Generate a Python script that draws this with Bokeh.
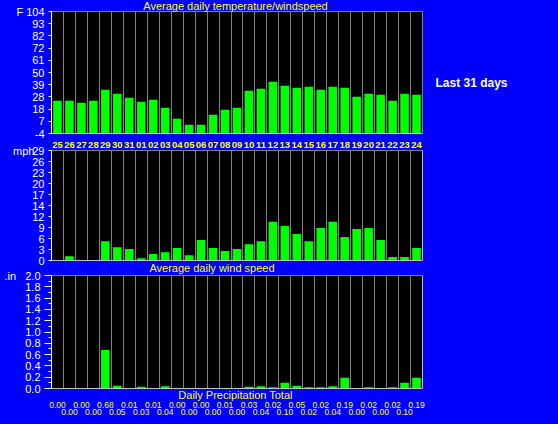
from bokeh.plotting import figure
from bokeh.layouts import column, row
from bokeh.models import FixedTicker, Span, Label, LabelSet, ColumnDataSource, Range1d
from bokeh.embed import file_html
from bokeh.resources import INLINE
from bokeh.core.properties import value

# ---------------- data ----------------
days = ["25", "26", "27", "28", "29", "30", "31", "01", "02", "03", "04", "05", "06", "07", "08",
        "09", "10", "11", "12", "13", "14", "15", "16", "17", "18", "19", "20", "21", "22", "23", "24"]
temp_f = [25.0, 25.0, 23.2, 25.0, 34.7, 31.2, 27.6, 24.1, 25.9, 18.7, 9.0, 3.7, 3.7, 12.5, 17.0,
          18.7, 33.8, 35.6, 41.8, 38.3, 36.5, 37.4, 34.7, 37.4, 36.5, 28.5, 31.2, 30.3, 25.0, 31.2, 30.3]
wind_mph = [0.0, 1.1, 0.0, 0.0, 5.1, 3.5, 3.0, 0.6, 1.7, 2.2, 3.3, 1.4, 5.4, 3.3, 2.5,
            3.0, 4.3, 5.1, 10.2, 9.1, 7.0, 5.1, 8.6, 10.2, 6.2, 8.3, 8.6, 5.4, 0.9, 0.9, 3.3]
precip_in = [0.00, 0.00, 0.00, 0.00, 0.68, 0.05, 0.01, 0.03, 0.01, 0.04, 0.00, 0.00, 0.00, 0.00, 0.01,
             0.00, 0.03, 0.04, 0.02, 0.10, 0.05, 0.02, 0.02, 0.04, 0.19, 0.00, 0.02, 0.00, 0.02, 0.10, 0.19]

temp_ticks = [-4, 6.8, 17.6, 28.4, 39.2, 50, 60.8, 71.6, 82.4, 93.2, 104]
temp_tick_labels = ["-4", "7", "18", "28", "39", "50", "61", "72", "82", "93", "104"]
wind_ticks = [0, 2.9, 5.8, 8.7, 11.6, 14.5, 17.4, 20.3, 23.2, 26.1, 29]
wind_tick_labels = ["0", "3", "6", "9", "12", "14", "17", "20", "23", "26", "29"]
precip_ticks = [0.0, 0.2, 0.4, 0.6, 0.8, 1.0, 1.2, 1.4, 1.6, 1.8, 2.0]
precip_minor = [0.1, 0.3, 0.5, 0.7, 0.9, 1.1, 1.3, 1.5, 1.7, 1.9]
precip_tick_labels = ["0.0", "0.2", "0.4", "0.6", "0.8", "1.0", "1.2", "1.4", "1.6", "1.8", "2.0"]

title_temp = "Average daily temperature/windspeed"
title_wind = "Average daily wind speed"
title_precip = "Daily Precipitation Total"
unit_temp = "F"
unit_wind = "mph"
unit_precip = ".in"
side_note = "Last 31 days"

# ---------------- style ----------------
BLUE = "#0000FF"
GREEN = "#00FF00"
YELLOW = "#FFFF00"
FONT = "Liberation Sans"
W, H = 558, 424
FL = 51          # frame left (px)
FW = 371         # frame width (px)
FR = W - FL - FW
N = len(days)
xc = [i + 0.5 for i in range(N)]


def make_fig(height, top_border, frame_h, y0, y1, ticks, labels, tick_out=3, minor=None,
             minor_out=0, right_white=False):
    p = figure(width=W, height=height, x_range=Range1d(0, N), y_range=Range1d(y0, y1),
               output_backend="svg", toolbar_location=None, x_axis_location=None,
               min_border_left=FL, min_border_right=FR, min_border_top=top_border,
               min_border_bottom=height - top_border - frame_h,
               background_fill_color="black", border_fill_color=None,
               outline_line_color="#808080")
    p.xgrid.ticker = FixedTicker(ticks=list(range(1, N)))
    p.xgrid.grid_line_color = "#808080"
    p.xgrid.grid_line_width = 1
    p.ygrid.grid_line_color = None
    ax = p.yaxis[0]
    ax.ticker = FixedTicker(ticks=ticks, minor_ticks=minor or [])
    ax.major_label_overrides = {t: l for t, l in zip(ticks, labels)}
    ax.axis_line_color = "white"
    ax.major_tick_line_color = "white"
    ax.minor_tick_line_color = "white" if minor else None
    ax.major_tick_out = tick_out
    ax.major_tick_in = 0
    ax.minor_tick_out = minor_out
    ax.minor_tick_in = 0
    ax.major_label_standoff = 4
    ax.major_label_text_color = "white"
    ax.major_label_text_font = FONT
    ax.major_label_text_font_size = "11px"
    p.add_layout(Span(location=y0, dimension="width", line_color="white", line_width=1))
    if right_white:
        p.add_layout(Span(location=N, dimension="height", line_color="white", line_width=1))
    return p


# panel 1: temperature (page y 0..141, frame 11..133)
pa = make_fig(141, 11, 122, -4, 104, temp_ticks, temp_tick_labels, tick_out=3)
pa.vbar(x=xc, top=temp_f, bottom=-4, width=0.72, fill_color=GREEN, line_color=None)

# panel 2: wind (page y 141..266, frame 150..260)
pb = make_fig(125, 9, 110, 0, 29, wind_ticks, wind_tick_labels, tick_out=3, right_white=True)
pb.vbar(x=xc, top=wind_mph, bottom=0, width=0.72, fill_color=GREEN, line_color=None)

# panel 3: precipitation (page y 266..424, frame 275..388)
pc = make_fig(158, 9, 113, 0, 2.0, precip_ticks, precip_tick_labels, tick_out=7,
              minor=precip_minor, minor_out=3, right_white=True)
pc.vbar(x=xc, top=precip_in, bottom=0, width=0.72, fill_color=GREEN, line_color=None)

# ---------------- text overlay (x in the same column units as the panels, y in page px) ----------------
pt = figure(width=W, height=H, x_range=Range1d(-FL * N / FW, (W - FL) * N / FW), y_range=Range1d(H, 0),
            output_backend="svg", toolbar_location=None, x_axis_location=None, y_axis_location=None,
            min_border=0, background_fill_color=None, border_fill_color=None, outline_line_color=None)
pt.grid.visible = False
pt.margin = (0, 0, 0, -W)


def xdata(px):
    return (px - FL) / FW * N


def add_label(text, px, py, align="left", color="white", size="11px", style="normal"):
    pt.add_layout(Label(x=xdata(px), y=py, text=text, text_align=align,
                        text_baseline="middle", text_color=color, text_font=FONT,
                        text_font_size=size, text_font_style=style))


add_label(title_temp, 235, 5, align="center", color=YELLOW)
add_label(unit_temp, 16, 11.5)
add_label(side_note, 435, 82, size="12px", style="bold")
add_label(unit_wind, 12.5, 150.5)
add_label(unit_precip, 4, 275)
add_label(title_wind, 211.5, 267, align="center", color=YELLOW)
add_label(title_precip, 235, 394, align="center", color=YELLOW)

day_src = ColumnDataSource(dict(x=xc, y=[147] * N, t=days))
pt.add_layout(LabelSet(x="x", y="y", text="t", source=day_src, text_align="center",
                       text_baseline="alphabetic", text_color=YELLOW,
                       text_font=value(FONT), text_font_size="9.5px",
                       text_font_style="bold"))
row_y = [407 if i % 2 == 0 else 414 for i in range(N)]
pr_src = ColumnDataSource(dict(x=xc, y=row_y, t=["%.2f" % v for v in precip_in]))
pt.add_layout(LabelSet(x="x", y="y", text="t", source=pr_src, text_align="center",
                       text_baseline="alphabetic", text_color=YELLOW,
                       text_font=value(FONT), text_font_size="8.5px"))

layout = row(column(pa, pb, pc, spacing=0), pt, spacing=0)

html = file_html(layout, INLINE, title="weather")
html = html.replace("</head>", "<style>html,body{margin:0;padding:0;background:#0000FF;overflow:hidden;}</style></head>", 1)
open("out.html", "w").write(html)
